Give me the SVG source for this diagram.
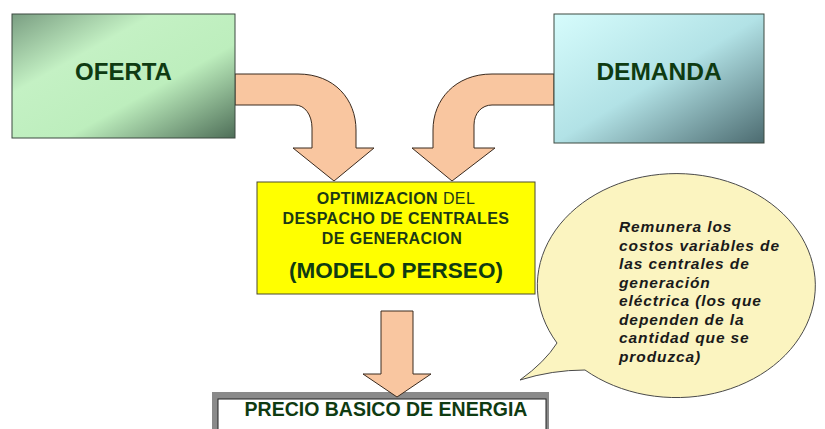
<svg xmlns="http://www.w3.org/2000/svg" width="825" height="429" viewBox="0 0 825 429">
<style>
.box{stroke:#3d4a40;stroke-width:1}
.arrow{fill:#f9c6a0;stroke:#3a2a1e;stroke-width:1;stroke-linejoin:round}
.big{font-family:"Liberation Sans",Arial,sans-serif;font-weight:bold;fill:#0f3b12}
.mid{font-family:"Liberation Sans",Arial,sans-serif;font-weight:bold;fill:#1c3a14;font-size:16px;letter-spacing:0.4px}
.note{font-family:"Liberation Sans",Arial,sans-serif;font-weight:bold;font-style:italic;fill:#1a1a1a;font-size:15.5px;letter-spacing:0.9px}
</style>
<defs>
<linearGradient id="gO" x1="0" y1="0" x2="1" y2="1">
<stop offset="0" stop-color="#7a9e82"/>
<stop offset="0.32" stop-color="#c4f1c4"/>
<stop offset="0.62" stop-color="#bdeebd"/>
<stop offset="1" stop-color="#4e6e58"/>
</linearGradient>
<linearGradient id="gD" x1="0" y1="0" x2="1" y2="1">
<stop offset="0" stop-color="#d6fcfc"/>
<stop offset="0.5" stop-color="#b2e2e6"/>
<stop offset="1" stop-color="#4c6b70"/>
</linearGradient>
</defs>
<rect width="825" height="429" fill="#ffffff"/>

<g id="connectors">
<path class="arrow" d="M235,74 L298,74 C335,74 356,100 356,130 L356,148 L374,148 L334,181 L293,148 L312,148 L312,128 C312,115 305,105 295,105 L235,105 Z"/>
<path class="arrow" d="M554,74 L492,74 C455,74 433,100 433,130 L433,148 L412,148 L452,181 L495,148 L474,148 L474,125 C474,113 482,105 492,105 L554,105 Z"/>
</g>

<g id="oferta">
<rect class="box" x="12" y="14" width="223" height="124" fill="url(#gO)"/>
<text class="big" x="123.5" y="80" font-size="24" text-anchor="middle">OFERTA</text>
</g>

<g id="demanda">
<rect class="box" x="554" y="14" width="210" height="129" fill="url(#gD)"/>
<text class="big" x="659" y="80" font-size="24.5" text-anchor="middle">DEMANDA</text>
</g>

<g id="optimizacion">
<rect x="257" y="182" width="278" height="112" fill="#ffff00" stroke="#4a4a30" stroke-width="1"/>
<text class="mid" x="396" y="204" text-anchor="middle">OPTIMIZACION <tspan font-weight="normal">DEL</tspan></text>
<text class="mid" x="396" y="224" text-anchor="middle">DESPACHO DE CENTRALES</text>
<text class="mid" x="392" y="244" text-anchor="middle">DE GENERACION</text>
<text class="big" x="396" y="278" font-size="22.5" text-anchor="middle" fill="#1c3a14">(MODELO PERSEO)</text>
</g>

<g id="precio">
<rect x="212" y="392" width="337" height="40" fill="#8a8a8a"/>
<rect x="218" y="399" width="328" height="40" fill="#ffffff" stroke="#222" stroke-width="1"/>
<text class="big" x="386" y="416" font-size="19.5" text-anchor="middle" fill="#173a12">PRECIO BASICO DE ENERGIA</text>
</g>

<g id="connectors-down">
<path class="arrow" d="M381,311 L413,311 L413,374 L431,374 L397,397 L363,374 L381,374 Z"/>
</g>

<g id="nota">
<path d="M585,370 A139,112 0 1 0 557,343 Q545,362 520,380 Q552,370 585,370 Z" fill="#fbf4c0" stroke="#4a4a4a" stroke-width="1"/>
<text class="note" x="619" y="232">Remunera los</text>
<text class="note" x="619" y="250.5">costos variables de</text>
<text class="note" x="619" y="269">las centrales de</text>
<text class="note" x="619" y="287.5">generación</text>
<text class="note" x="619" y="306">eléctrica (los que</text>
<text class="note" x="619" y="324.5">dependen de la</text>
<text class="note" x="619" y="343">cantidad que se</text>
<text class="note" x="619" y="361.5">produzca)</text>
</g>
</svg>
